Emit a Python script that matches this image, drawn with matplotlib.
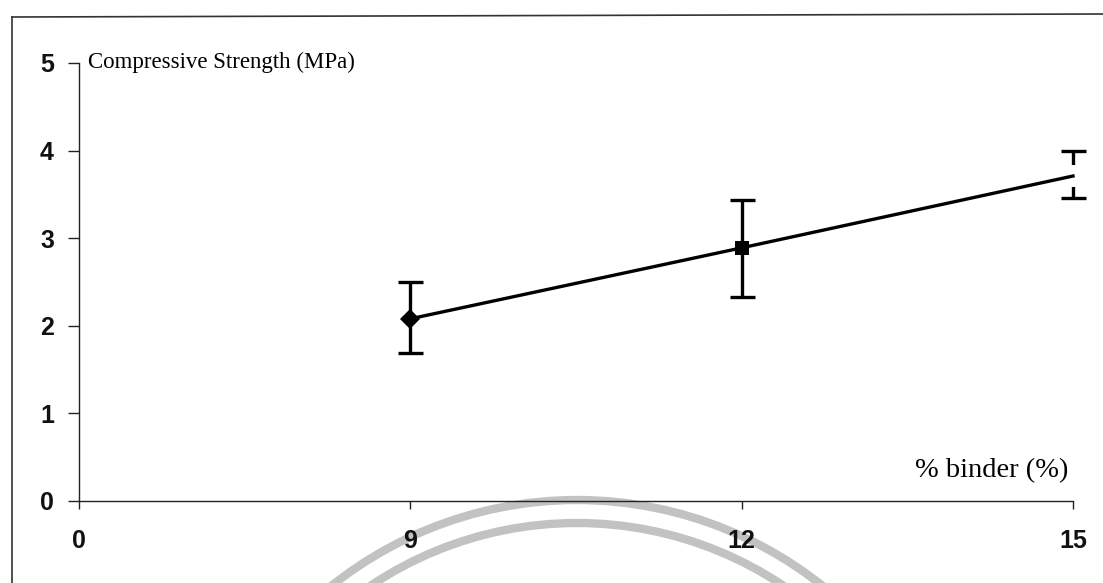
import matplotlib
matplotlib.use("Agg")
import matplotlib.pyplot as plt
from matplotlib.patches import Arc
from matplotlib.lines import Line2D

# binder content categories (evenly spaced category axis)
binder_labels = ["0", "9", "12", "15"]
binder_pos = [1, 2, 3]
strength = [2.08, 2.89, 3.71]
err_low = [0.39, 0.56, 0.25]
err_high = [0.42, 0.55, 0.28]
markers = ["D", "s", "s"]
marker_faces = ["black", "black", "white"]
marker_sizes = [10, 9.5, 16]

W, H, DPI = 1103, 583, 100
fig = plt.figure(figsize=(W / DPI, H / DPI), dpi=DPI)
fig.patch.set_facecolor("white")

def px(x, y):
    return x / W, 1 - y / H

# faint stamp rings at the bottom of the page
stamp = fig.add_axes([0, 0, 1, 1], zorder=-5)
stamp.set_xlim(0, W)
stamp.set_ylim(H, 0)
stamp.axis("off")
for r in (394, 371):
    stamp.add_patch(Arc((577, 894), 2 * r, 2 * r, theta1=180, theta2=360,
                        color="#c2c2c2", lw=6))

# page frame
fig.add_artist(Line2D([12 / W, 12 / W], [0, 1 - 17 / H], transform=fig.transFigure,
                      color="#333333", lw=1.2))
fig.add_artist(Line2D([12 / W, 1], [1 - 17 / H, 1 - 14 / H], transform=fig.transFigure,
                      color="#333333", lw=1.2))

x0, y1 = px(79, 63)
x1, y0 = px(1073, 501)
ax = fig.add_axes([x0, y0, x1 - x0, y1 - y0])
ax.set_facecolor("none")

eb = ax.errorbar(binder_pos, strength, yerr=[err_low, err_high], fmt="none",
                 ecolor="black", elinewidth=2.4, capsize=9, capthick=2.4, zorder=2)
for art in eb.lines[1] + eb.lines[2]:
    art.set_clip_on(False)
for x, y, m, fc, ms in zip(binder_pos, strength, markers, marker_faces, marker_sizes):
    ax.plot(x, y, marker=m, color=fc, markersize=ms, markeredgewidth=0,
            linestyle="none", zorder=3 if fc == "white" else 5, clip_on=False)
ax.plot(binder_pos, strength, color="black", lw=2.4, zorder=4, clip_on=False)

ax.set_xlim(0, 3)
ax.set_ylim(0, 5)
ax.set_xticks(range(len(binder_labels)))
ax.set_xticklabels(binder_labels)
ax.set_yticks(range(6))

for s in ("top", "right"):
    ax.spines[s].set_visible(False)
for s in ("left", "bottom"):
    ax.spines[s].set_color("#222222")
    ax.spines[s].set_linewidth(1.0)

tick_font = dict(family="Liberation Sans", weight="bold", size=18)
ax.tick_params(axis="y", direction="out", length=8, width=1, color="#222222", pad=10)
ax.tick_params(axis="x", direction="out", length=6, width=1, color="#222222", pad=14)
for lab in ax.get_xticklabels() + ax.get_yticklabels():
    lab.set_fontproperties(tick_font)
    lab.set_color("#111111")

fig.text(88 / W, 1 - 68 / H, "Compressive Strength (MPa)", family="Liberation Serif",
         size=16.5, color="black", ha="left", va="baseline")
fig.text(1068 / W, 1 - 477 / H, "% binder (%)", family="Liberation Serif",
         size=20.5, color="black", ha="right", va="baseline")

fig.savefig("out.png", dpi=DPI, facecolor="white")
